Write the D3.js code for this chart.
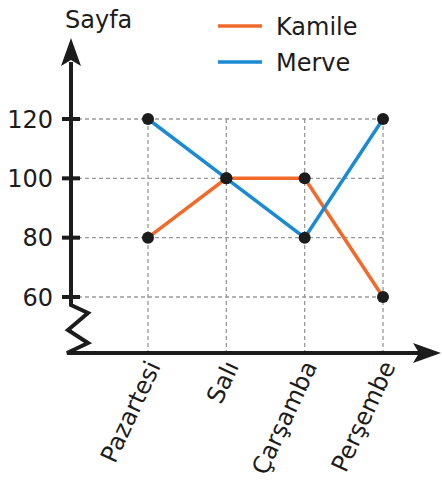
<!DOCTYPE html>
<html>
<head>
<meta charset="utf-8">
<script src="https://cdn.jsdelivr.net/npm/d3@7/dist/d3.min.js"></script>
<style>
  body { margin: 0; background: #fff; }
  text { font-family: "DejaVu Sans", sans-serif; fill: #1c1c1c; }
</style>
</head>
<body>
<div id="chart-area"></div>
<script>
var days = ["Pazartesi", "Salı", "Çarşamba", "Perşembe"];
var kamile = [80, 100, 100, 60];
var merve = [120, 100, 80, 120];
var yTicks = [60, 80, 100, 120];

var width = 442, height = 497;
var axisX = 71, axisY = 353;

var svg = d3.select("#chart-area").append("svg")
    .attr("width", width)
    .attr("height", height);

var x = d3.scalePoint().domain(days).range([148, 383]);
var y = d3.scaleLinear().domain([60, 120]).range([297, 119]);

// grid
svg.selectAll(".hgrid").data(yTicks).enter().append("line")
    .attr("x1", axisX).attr("x2", x(days[days.length - 1]))
    .attr("y1", (d) => y(d)).attr("y2", (d) => y(d))
    .attr("stroke", "#999").attr("stroke-width", 1.3)
    .attr("stroke-dasharray", "4,3");

svg.selectAll(".vgrid").data(days).enter().append("line")
    .attr("x1", (d) => x(d)).attr("x2", (d) => x(d))
    .attr("y1", y(120)).attr("y2", axisY)
    .attr("stroke", "#999").attr("stroke-width", 1.3)
    .attr("stroke-dasharray", "4,3");

// axes
var ink = "#1c1c1c";
svg.append("path")
    .attr("d", "M" + axisX + "," + 62 + "V305 L88,313 L68,330 L88,343 L67," + axisY + " H425")
    .attr("fill", "none").attr("stroke", ink).attr("stroke-width", 4)
    .attr("stroke-linejoin", "miter");
// arrows
svg.append("path")
    .attr("d", "M" + axisX + ",38 L81,66 L" + axisX + ",60 L61,66 Z")
    .attr("fill", ink);
svg.append("path")
    .attr("d", "M441," + axisY + " L413,343 L419," + axisY + " L413,363 Z")
    .attr("fill", ink);

// y ticks
svg.selectAll(".ytick").data(yTicks).enter().append("line")
    .attr("x1", 62).attr("x2", 80)
    .attr("y1", (d) => y(d)).attr("y2", (d) => y(d))
    .attr("stroke", ink).attr("stroke-width", 4);

svg.selectAll(".ylab").data(yTicks).enter().append("text")
    .attr("x", 53).attr("y", (d) => y(d))
    .attr("dy", "0.36em")
    .attr("text-anchor", "end")
    .style("font-size", "24px")
    .text((d) => d);

svg.append("text").attr("x", 65).attr("y", 28)
    .style("font-size", "24px").text("Sayfa");

// x labels
svg.selectAll(".xlab").data(days).enter().append("text")
    .attr("transform", (d) => "translate(" + (x(d) + 13) + ",366) rotate(-65)")
    .attr("text-anchor", "end")
    .style("font-size", "24px")
    .text((d) => d);

// lines
var line = d3.line().x((d, i) => x(days[i])).y((d) => y(d));
var series = [
    { name: "Kamile", values: kamile, color: "#f26a2a" },
    { name: "Merve", values: merve, color: "#1a8ad4" }
];

series.forEach((s) => {
    svg.append("path").datum(s.values)
        .attr("d", line)
        .attr("fill", "none").attr("stroke", s.color)
        .attr("stroke-width", 3.5);
});
series.forEach((s) => {
    svg.selectAll(null).data(s.values).enter().append("circle")
        .attr("cx", (d, i) => x(days[i])).attr("cy", (d) => y(d))
        .attr("r", 6).attr("fill", ink);
});

// legend
var legend = svg.selectAll(".legend").data(series).enter().append("g")
    .attr("transform", (d, i) => "translate(218," + (26 + i * 36) + ")");
legend.append("line").attr("x1", 0).attr("x2", 44)
    .attr("stroke", (d) => d.color).attr("stroke-width", 3.5);
legend.append("text").attr("x", 58).attr("dy", "0.36em")
    .style("font-size", "24px").text((d) => d.name);
</script>
</body>
</html>
